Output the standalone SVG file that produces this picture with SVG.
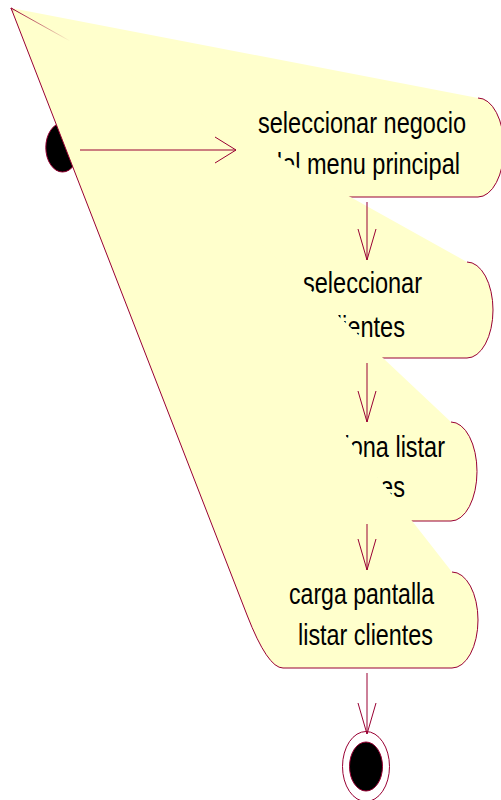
<svg xmlns="http://www.w3.org/2000/svg" width="501" height="800" viewBox="0 0 501 800">
<style>
.fill{fill:#ffffcc;stroke:none}
.edge{fill:none;stroke:#990033;stroke-width:1}
.lbl{font-family:"Liberation Sans",Arial,sans-serif;font-size:29px;fill:#000}
.con{fill:none;stroke:#990033;stroke-width:1}
</style>
<defs>
<marker id="av" viewBox="-32 -14 34 28" refX="0" refY="0" markerWidth="34" markerHeight="28" markerUnits="userSpaceOnUse" orient="auto">
<path d="M-31,-9 L0,0 L-31,9" fill="none" stroke="#990033" stroke-width="1"/>
</marker>
<marker id="ah" viewBox="-32 -14 34 28" refX="0" refY="0" markerWidth="34" markerHeight="28" markerUnits="userSpaceOnUse" orient="auto">
<path d="M-21,-13 L0,0 L-21,13" fill="none" stroke="#990033" stroke-width="1"/>
</marker>
<linearGradient id="fade" x1="11" y1="8" x2="70" y2="41" gradientUnits="userSpaceOnUse">
<stop offset="0" stop-color="#990033" stop-opacity="1"/>
<stop offset="1" stop-color="#990033" stop-opacity="0"/>
</linearGradient>
</defs>
<g id="start">
<ellipse cx="62.5" cy="147.5" rx="16.7" ry="24.5" fill="#000" stroke="#990033" stroke-width="1"/>
</g>
<g id="act1">
<path class="fill" d="M11,8 L478,98 A26,49.5 0 0 1 478,197 L256,197 A26,49.5 0 0 1 230,147.5 Z"/>
<path class="edge" d="M478,98 A26,49.5 0 0 1 478,197 L256,197 A26,49.5 0 0 1 230,147.5 L11,8"/>
<text class="lbl" x="258" y="133" textLength="208" lengthAdjust="spacingAndGlyphs">seleccionar negocio</text>
<text class="lbl" x="269" y="174" textLength="191" lengthAdjust="spacingAndGlyphs">del menu principal</text>
</g>
<g id="act2">
<path class="fill" d="M11,8 L467,262 A26,48 0 0 1 467,358 L267,358 A26,48 0 0 1 241,310 Z"/>
<path class="edge" d="M467,262 A26,48 0 0 1 467,358 L267,358 A26,48 0 0 1 241,310 L11,8"/>
<line x1="11" y1="8" x2="70" y2="41" stroke="url(#fade)" stroke-width="1"/>
<line x1="54.5" y1="60" x2="55.5" y2="63" stroke="#990033" stroke-width="1"/>
<text class="lbl" x="303" y="293" textLength="119" lengthAdjust="spacingAndGlyphs">seleccionar</text>
<text class="lbl" x="325" y="337" textLength="80" lengthAdjust="spacingAndGlyphs">clientes</text>
</g>
<g id="act3">
<path class="fill" d="M11,8 L451,422 A26,49.5 0 0 1 451,521 L283,521 A26,49.5 0 0 1 257,471.5 Z"/>
<path class="edge" d="M451,422 A26,49.5 0 0 1 451,521 L283,521 A26,49.5 0 0 1 257,471.5 L11,8"/>
<text class="lbl" x="278" y="457" textLength="167" lengthAdjust="spacingAndGlyphs">selecciona listar</text>
<text class="lbl" x="325" y="497" textLength="80" lengthAdjust="spacingAndGlyphs">clientes</text>
</g>
<g id="act4">
<path class="fill" d="M11,8 L452,572 A26,48 0 0 1 452,668 L283,668 Q267.6,668 247,615 Z"/>
<path class="edge" d="M452,572 A26,48 0 0 1 452,668 L283,668 Q267.6,668 247,615 L11,8"/>
<text class="lbl" x="289" y="604" textLength="145" lengthAdjust="spacingAndGlyphs">carga pantalla</text>
<text class="lbl" x="298" y="645" textLength="135" lengthAdjust="spacingAndGlyphs">listar clientes</text>
</g>
<g id="end">
<ellipse cx="366" cy="766.5" rx="23.5" ry="35" fill="#fff" stroke="#990033" stroke-width="1"/>
<ellipse cx="366" cy="766.5" rx="16.5" ry="24.5" fill="#000" stroke="#990033" stroke-width="1"/>
</g>
<g id="connectors">
<path class="con" d="M80,150 H236" marker-end="url(#ah)"/>
<path class="con" d="M367,202 V260" marker-end="url(#av)"/>
<path class="con" d="M367,363 V422" marker-end="url(#av)"/>
<path class="con" d="M367,524 V570" marker-end="url(#av)"/>
<path class="con" d="M367,673 V734" marker-end="url(#av)"/>
</g>
</svg>
